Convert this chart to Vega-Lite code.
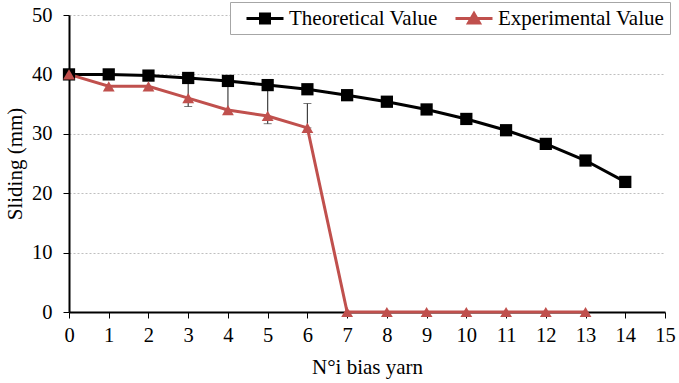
{
  "$schema": "https://vega.github.io/schema/vega-lite/v6.json",
  "width": 596,
  "height": 297,
  "autosize": {"type": "none"},
  "padding": {"left": 69, "top": 15, "right": 14, "bottom": 71},
  "background": "white",
  "config": {
    "font": "Liberation Serif",
    "view": {"stroke": null},
    "style": {"guide-label": {"font": "Liberation Serif", "fontSize": 20.5, "fill": "#000"}, "guide-title": {"font": "Liberation Serif", "fontSize": 21, "fill": "#000", "fontWeight": "normal"}},
    "axis": {"labelFont": "Liberation Serif", "titleFont": "Liberation Serif", "labelFontSize": 20.5, "titleFontSize": 21, "titleFontWeight": "normal", "labelColor": "#000", "titleColor": "#000", "domainColor": "#000", "tickColor": "#000", "domainWidth": 2, "tickWidth": 1, "tickSize": 6, "labelOverlap": false}
  },
  "data": {"values": [
    {"x": 0, "series": "Theoretical Value", "value": 40},
    {"x": 1, "series": "Theoretical Value", "value": 40},
    {"x": 2, "series": "Theoretical Value", "value": 39.8},
    {"x": 3, "series": "Theoretical Value", "value": 39.4},
    {"x": 4, "series": "Theoretical Value", "value": 38.9},
    {"x": 5, "series": "Theoretical Value", "value": 38.2},
    {"x": 6, "series": "Theoretical Value", "value": 37.5},
    {"x": 7, "series": "Theoretical Value", "value": 36.5},
    {"x": 8, "series": "Theoretical Value", "value": 35.4},
    {"x": 9, "series": "Theoretical Value", "value": 34.1},
    {"x": 10, "series": "Theoretical Value", "value": 32.5},
    {"x": 11, "series": "Theoretical Value", "value": 30.6},
    {"x": 12, "series": "Theoretical Value", "value": 28.3},
    {"x": 13, "series": "Theoretical Value", "value": 25.5},
    {"x": 14, "series": "Theoretical Value", "value": 21.9},
    {"x": 0, "series": "Experimental Value", "value": 40},
    {"x": 1, "series": "Experimental Value", "value": 38},
    {"x": 2, "series": "Experimental Value", "value": 38},
    {"x": 3, "series": "Experimental Value", "value": 36, "low": 34.6, "high": 38.5},
    {"x": 4, "series": "Experimental Value", "value": 34, "low": 34, "high": 38.5},
    {"x": 5, "series": "Experimental Value", "value": 33, "low": 31.7, "high": 37.8},
    {"x": 6, "series": "Experimental Value", "value": 31, "low": 31, "high": 35.1},
    {"x": 7, "series": "Experimental Value", "value": 0},
    {"x": 8, "series": "Experimental Value", "value": 0},
    {"x": 9, "series": "Experimental Value", "value": 0},
    {"x": 10, "series": "Experimental Value", "value": 0},
    {"x": 11, "series": "Experimental Value", "value": 0},
    {"x": 12, "series": "Experimental Value", "value": 0},
    {"x": 13, "series": "Experimental Value", "value": 0}
  ]},
  "encoding": {
    "x": {"field": "x", "type": "quantitative", "scale": {"domain": [0, 15], "nice": false}, "axis": {"title": "N°i bias yarn", "values": [0,1,2,3,4,5,6,7,8,9,10,11,12,13,14,15], "grid": false, "labelPadding": 7, "titlePadding": 11, "labelFlush": false, "labelFont": "Liberation Serif", "titleFont": "Liberation Serif", "labelFontSize": 20.5, "titleFontSize": 21, "labelOverlap": false}}
  },
  "layer": [
    {
      "transform": [{"filter": "isValid(datum.low)"}],
      "mark": {"type": "errorbar", "ticks": {"size": 8, "color": "#404040", "strokeWidth": 1.2}, "rule": {"color": "#404040", "strokeWidth": 1.2}},
      "encoding": {
        "y": {"field": "low", "type": "quantitative", "title": "Sliding (mm)"},
        "y2": {"field": "high"}
      }
    },
    {
      "mark": {"type": "line", "strokeWidth": 3},
      "encoding": {
        "y": {"field": "value", "type": "quantitative", "title": "Sliding (mm)", "scale": {"domain": [0, 50], "nice": false}, "axis": {"title": "Sliding (mm)", "values": [0,10,20,30,40,50], "grid": true, "gridColor": "#bfbfbf", "gridDash": [2, 2], "gridWidth": 1, "labelPadding": 11, "titlePadding": 6, "labelFlush": false, "labelFont": "Liberation Serif", "titleFont": "Liberation Serif", "labelFontSize": 20.5, "titleFontSize": 21}},
        "color": {"field": "series", "type": "nominal", "scale": {"domain": ["Theoretical Value", "Experimental Value"], "range": ["#000000", "#c0504d"]},
          "legend": {"title": null, "orient": "none", "legendX": 161, "legendY": -13, "direction": "horizontal", "columns": 2, "labelFont": "Liberation Serif", "labelFontSize": 21, "labelColor": "#000", "labelLimit": 0, "strokeColor": "#a6a6a6", "fillColor": "white", "padding": 5, "symbolOffset": 10, "labelOffset": 21, "columnPadding": 6, "symbolSize": 400, "symbolStrokeWidth": 3,
            "encode": {"symbols": {
              "enter": {
                "shape": {"signal": "datum.value === 'Theoretical Value' ? 'M-1,0H2.7M0.4,-0.45H1.3V0.45H0.4Z' : 'M-1,0H2.7M0.85,-0.5L1.4,0.45H0.3Z'"}
              },
              "update": {
              "shape": {"signal": "datum.value === 'Theoretical Value' ? 'M-1,0H2.7M0.4,-0.45H1.3V0.45H0.4Z' : 'M-1,0H2.7M0.85,-0.5L1.4,0.45H0.3Z'"},
              "fill": {"signal": "datum.value === 'Theoretical Value' ? '#000000' : '#c0504d'"},
              "stroke": {"signal": "datum.value === 'Theoretical Value' ? '#000000' : '#c0504d'"},
              "strokeWidth": {"value": 3},
              "opacity": {"value": 1}
            }}}}
        }
      }
    },
    {
      "transform": [{"filter": "datum.series === 'Theoretical Value'"}],
      "mark": {"type": "point", "filled": true, "opacity": 1, "size": 150, "shape": "square", "color": "#000000"},
      "encoding": {
        "y": {"field": "value", "type": "quantitative", "title": "Sliding (mm)"}
      }
    },
    {
      "transform": [{"filter": "datum.series === 'Experimental Value'"}],
      "mark": {"type": "point", "filled": true, "opacity": 1, "size": 140, "shape": "triangle-up", "color": "#c0504d"},
      "encoding": {
        "y": {"field": "value", "type": "quantitative", "title": "Sliding (mm)"}
      }
    }
  ]
}
